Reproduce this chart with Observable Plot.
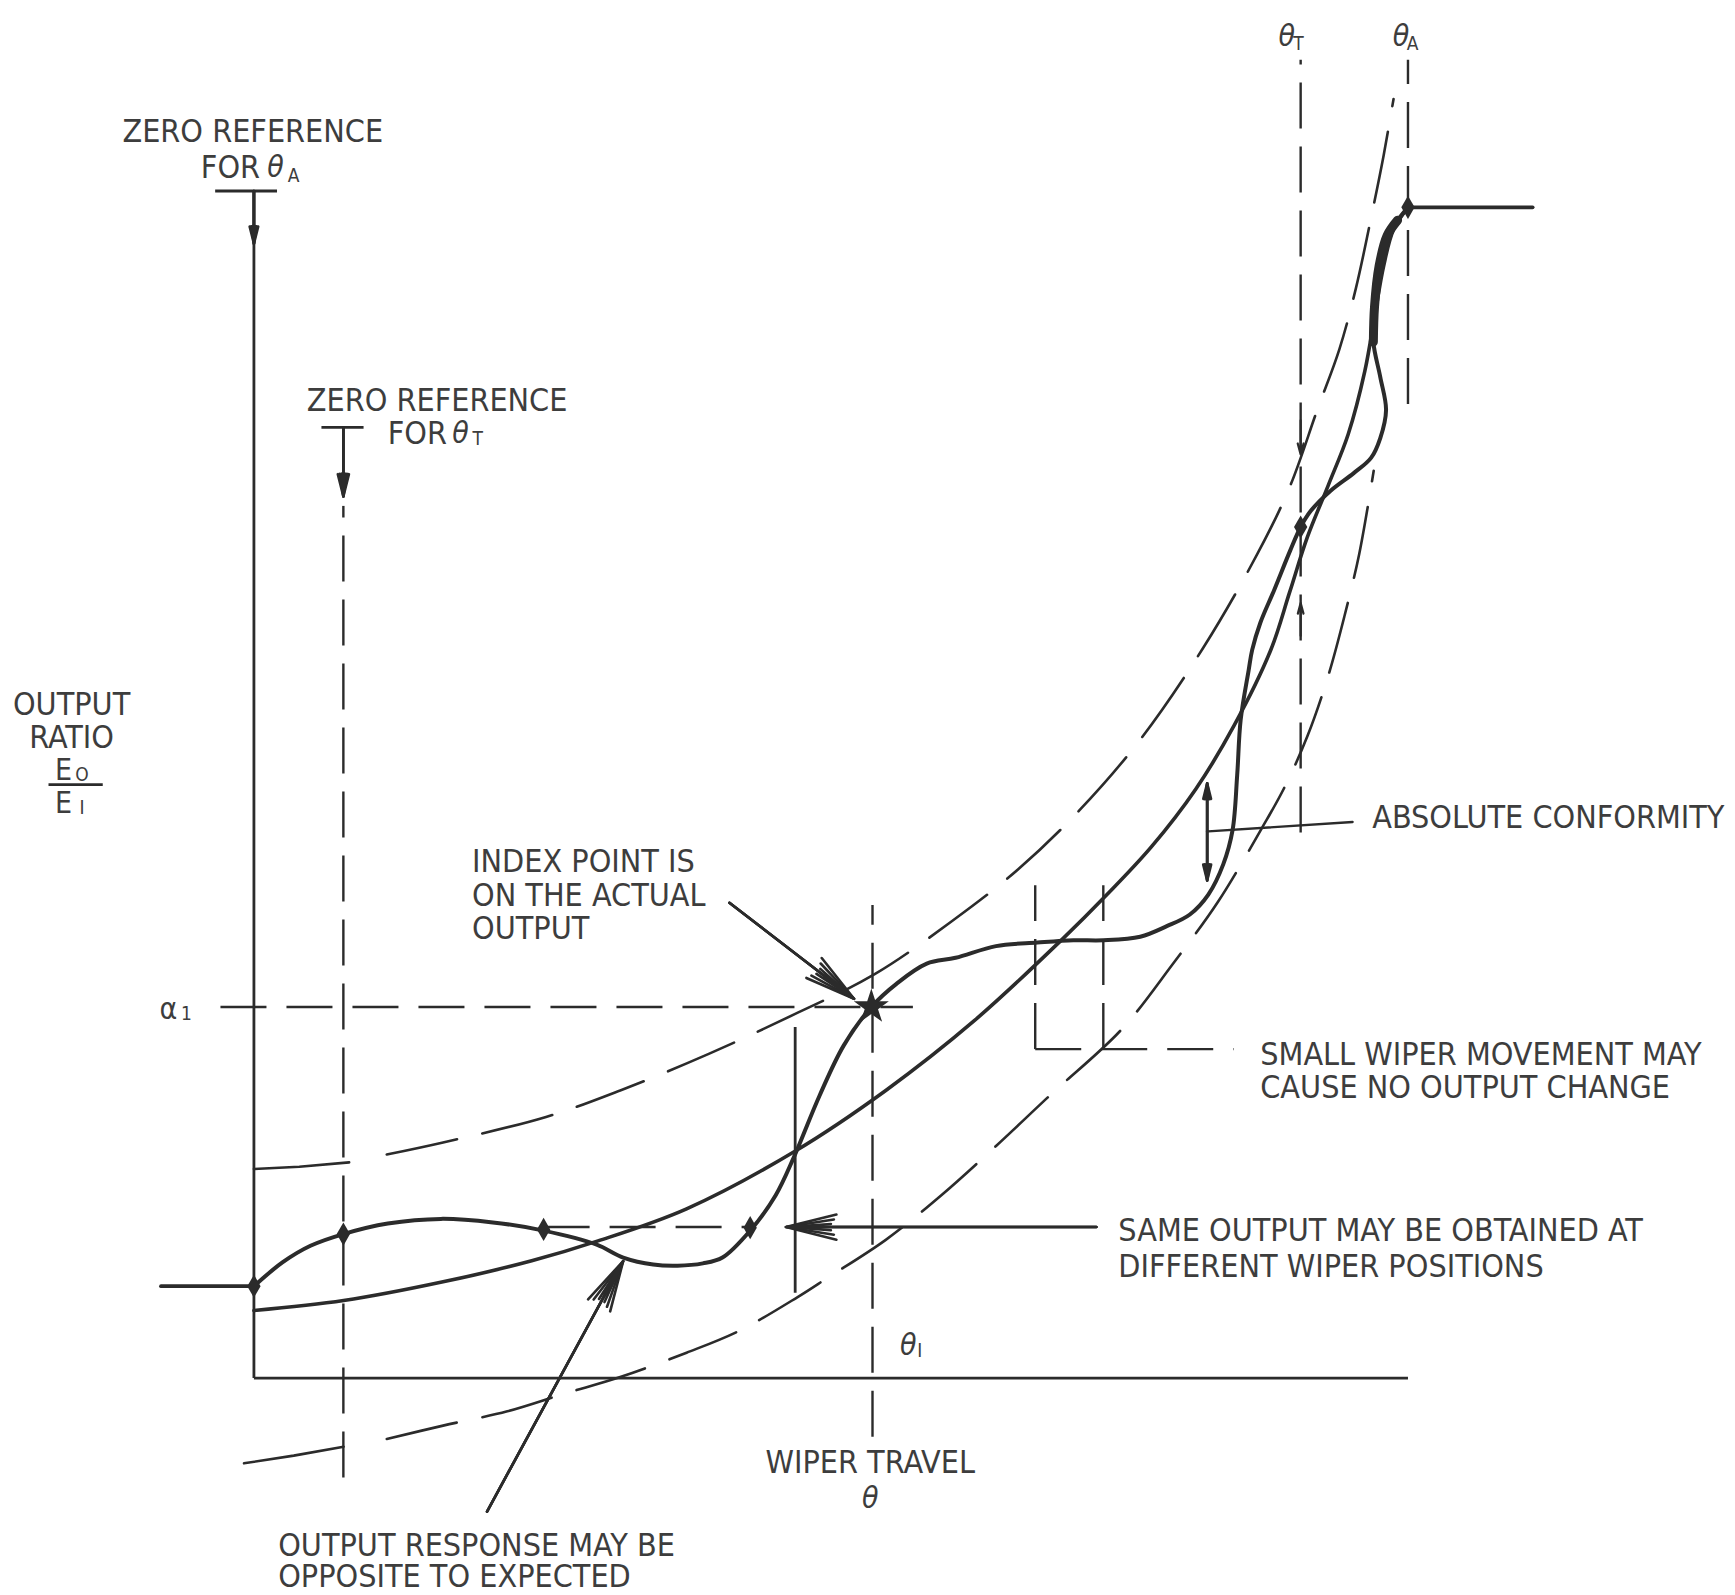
<!DOCTYPE html>
<html>
<head>
<meta charset="utf-8">
<script src="https://cdn.jsdelivr.net/npm/d3@7"></script>
<script src="https://cdn.jsdelivr.net/npm/@observablehq/plot@0.6"></script>
<style>
  html, body { margin: 0; padding: 0; background: #ffffff; }
  #chart svg { display: block; }
</style>
</head>
<body>
<div id="chart"></div>
<script>
// Units: wiper travel θ (0 = zero reference for θA, 100 = end of θA),
// output ratio (0 = base line, 100 = full output)

// Actual output (wavy curve)
const actualTheta = [-8.05, 0, 2.5, 4.9, 7.75, 11.6, 16.2, 20.7, 25.1, 29.7, 32.0, 34.6, 36.7, 38.9, 40.6, 43.0, 45.2, 46.8, 49.0, 51.1, 53.5, 55.7, 58.3, 60.8, 64.3, 67.9, 71.0, 73.6, 76.8, 79.1, 81.1, 82.7, 84.0, 84.8, 85.2, 85.5, 86.2, 86.5, 87.2, 88.4, 89.8, 90.7, 91.6, 93.3, 95.3, 96.8, 97.6, 98.1, 97.6, 97.0, 97.1, 97.5, 98.2, 99.1, 100, 110.8];
const actualRatio = [7.85, 7.85, 9.9, 11.3, 12.3, 13.2, 13.6, 13.3, 12.6, 11.4, 10.3, 9.7, 9.6, 9.8, 10.3, 12.6, 15.6, 18.9, 24.1, 28.4, 31.7, 33.7, 35.4, 35.9, 36.9, 37.2, 37.4, 37.4, 37.7, 38.6, 39.6, 41.3, 43.9, 46.8, 51.5, 56.2, 60.5, 62.2, 64.5, 67.3, 70.7, 72.7, 74.1, 75.8, 77.3, 78.6, 80.3, 82.7, 85.5, 88.5, 91.5, 95.0, 97.6, 98.9, 100, 100];

// Theoretical (smooth) function
const theoTheta = [0, 7.77, 16.39, 24.07, 29.82, 37.49, 46.88, 54.75, 62.42, 69.99, 73.92, 77.76, 81.59, 84.95, 88.11, 89.74, 91.28, 93.10, 94.82, 96.26, 97.12, 97.89, 98.75, 100];
const theoRatio = [5.77, 6.62, 8.22, 10.02, 11.72, 14.46, 19.38, 24.57, 30.53, 37.43, 41.30, 45.37, 50.28, 55.77, 62.19, 67.11, 71.83, 76.28, 80.62, 86.01, 90.74, 94.99, 98.11, 100];

// Conformity limits (dashed envelope)
const upperTheta = [0, 3.93, 8.25, 11.51, 16.39, 25.31, 31.74, 39.41, 47.08, 53.79, 60.50, 66.25, 71.52, 76.80, 82.26, 86.96, 89.74, 92.14, 94.06, 95.49, 96.93, 97.89, 98.75];
const upperRatio = [17.86, 18.05, 18.43, 19.10, 20.13, 22.31, 24.57, 27.69, 31.19, 34.50, 39.04, 43.48, 48.49, 54.54, 62.38, 70.42, 76.09, 82.70, 87.90, 93.10, 99.72, 104.44, 109.26];
const lowerTheta = [-0.86, 3.45, 7.77, 11.51, 16.39, 21.96, 26.94, 31.74, 37.49, 42.09, 47.08, 49.76, 54.75, 59.54, 64.33, 69.13, 75.17, 79.67, 83.51, 87.34, 89.26, 91.28, 93.10, 94.53, 95.78, 97.03];
const lowerRatio = [-7.28, -6.62, -5.86, -5.20, -4.06, -2.84, -1.32, 0.09, 2.17, 4.06, 6.90, 8.60, 11.81, 15.60, 19.85, 24.29, 29.77, 35.44, 40.64, 46.98, 50.38, 54.82, 60.02, 65.22, 70.42, 77.50];

// Reference positions
const thetaZeroT = 7.75, thetaEndT = 90.7, thetaEndA = 100, thetaIndex = 53.6, alphaIndex = 31.7;
const sameOutput = 12.9;

// Solid guide rules (vertical): theta, from, to
const solidVTheta = [0, 46.9];
const solidVFrom = [0, 7.3];
const solidVTo = [101.4, 30.0];
// Solid guide rules (horizontal): ratio, from, to
const solidHRatio = [0, 101.4, 81.2, 50.7];
const solidHFrom = [0, -3.36, 5.85, -17.8];
const solidHTo = [100, 2.0, 9.5, -13.1];
// Dashed vertical rules
const dashVTheta = [thetaZeroT, thetaEndT, thetaEndA, thetaIndex, 67.7, 73.6];
const dashVFrom = [-8.5, 46.6, 83.2, -5.0, 28.1, 28.1];
const dashVTo = [74.5, 112.6, 112.6, 40.4, 42.1, 42.1];
// Dashed horizontal rules
const dashHRatio = [alphaIndex, 28.1, sameOutput];
const dashHFrom = [-2.9, 67.7, 25.1];
const dashHTo = [57.1, 84.9, 43.0];

// Arrows
const arrowX1 = [0, thetaZeroT, 41.2, 73.0, 82.6, 82.6, 20.2];
const arrowY1 = [101.4, 81.2, 40.6, sameOutput, 46.7, 46.7, -11.4];
const arrowX2 = [0, thetaZeroT, 52.0, 46.1, 82.6, 82.6, 32.0];
const arrowY2 = [96.9, 75.3, 32.4, sameOutput, 50.8, 42.5, 10.0];
// Small arrow marks on the θT end line
const tickArrowFrom = [81.8, 63.4];
const tickArrowTo = [78.9, 66.2];
// Leader line for absolute conformity
const leaderX = [82.7, 95.2];
const leaderY = [46.7, 47.5];

// Points marked on the actual output
const markTheta = [0, 7.75, 25.1, 43.0, 90.7, 100];
const markRatio = [7.85, 12.3, 12.7, 12.85, 72.7, 100];
const indexPoint = [53.5, 31.7];

// Text (centered)
const centerText = ["ZERO REFERENCE", "ZERO REFERENCE", "OUTPUT", "RATIO", "WIPER TRAVEL"];
const centerTheta = [-0.1, 15.87, -15.8, -15.8, 53.4];
const centerRatio = [106.5, 83.5, 57.5, 54.7, -7.2];
// Text (left aligned)
const leftText = ["FOR", "FOR", "INDEX POINT IS", "ON THE ACTUAL", "OUTPUT", "ABSOLUTE CONFORMITY", "SMALL WIPER MOVEMENT MAY", "CAUSE NO OUTPUT CHANGE", "SAME OUTPUT MAY BE OBTAINED AT", "DIFFERENT WIPER POSITIONS", "OUTPUT RESPONSE MAY BE", "OPPOSITE TO EXPECTED"];
const leftTheta = [-4.6, 11.6, 18.9, 18.9, 18.9, 96.9, 87.2, 87.2, 74.9, 74.9, 2.1, 2.1];
const leftRatio = [103.4, 80.7, 44.1, 41.2, 38.4, 47.9, 27.6, 24.8, 12.6, 9.5, -14.3, -17.0];
// Symbols
const symText = ["θ", "θ", "θ", "θ", "θ", "θ", "E", "E", "α"];
const symTheta = [1.87, 17.9, 89.5, 99.4, 56.7, 53.4, -16.5, -16.5, -7.4];
const symRatio = [103.4, 80.7, 114.6, 114.6, 2.8, -10.3, 51.9, 49.1, 31.5];
const symItalic = [true, true, true, true, true, true, false, false, false];
const subText = ["A", "T", "T", "A", "I", "O", "I", "1"];
const subTheta = [3.43, 19.4, 90.5, 100.4, 57.7, -14.9, -14.9, -5.85];
const subRatio = [102.7, 80.2, 114.0, 114.0, 2.3, 51.5, 48.7, 31.1];

const zip = (xs, ys) => xs.map((x, i) => ({x, y: ys[i]}));
const ink = "#2b2b2b";
const txt = "#3d3d3d";
const font = "'DejaVu Sans Condensed', 'Liberation Sans Narrow', sans-serif";

const actualPts = zip(actualTheta, actualRatio);
const upperPts = zip(upperTheta, upperRatio);
const lowerPts = zip(lowerTheta, lowerRatio);
const arrowData = arrowX1.map((x, i) => ({x1: x, y1: arrowY1[i], x2: arrowX2[i], y2: arrowY2[i]}));
const tickArrows = tickArrowFrom.map((a, i) => ({x1: thetaEndT, y1: a, x2: thetaEndT, y2: tickArrowTo[i]}));
const n = actualPts.length;

const chart = Plot.plot({
  width: 1735,
  height: 1595,
  margin: 0,
  x: {domain: [-21.96, 128.38], axis: null},
  y: {domain: [-18.57, 117.67], axis: null},
  style: {background: "#ffffff"},
  marks: [
    // dashed envelope
    Plot.line(upperPts.slice(0, 3), {x: "x", y: "y", stroke: ink, strokeWidth: 2.6}),
    Plot.line(upperPts.slice(3), {x: "x", y: "y", stroke: ink, strokeWidth: 2.6, curve: "catmull-rom", strokeDasharray: "72,26"}),
    Plot.line(lowerPts.slice(0, 3), {x: "x", y: "y", stroke: ink, strokeWidth: 2.6}),
    Plot.line(lowerPts.slice(3), {x: "x", y: "y", stroke: ink, strokeWidth: 2.6, curve: "catmull-rom", strokeDasharray: "72,26"}),
    // dashed guides
    Plot.link(dashVTheta.map((t, i) => ({t, a: dashVFrom[i], b: dashVTo[i]})), {x1: "t", x2: "t", y1: "a", y2: "b", stroke: ink, strokeWidth: 2.4, strokeDasharray: "46,18"}),
    Plot.link(dashHRatio.map((r, i) => ({r, a: dashHFrom[i], b: dashHTo[i]})), {y1: "r", y2: "r", x1: "a", x2: "b", stroke: ink, strokeWidth: 2.4, strokeDasharray: "46,20"}),
    // solid guides
    Plot.link(solidVTheta.map((t, i) => ({t, a: solidVFrom[i], b: solidVTo[i]})), {x1: "t", x2: "t", y1: "a", y2: "b", stroke: ink, strokeWidth: 2.8}),
    Plot.link(solidHRatio.map((r, i) => ({r, a: solidHFrom[i], b: solidHTo[i]})), {y1: "r", y2: "r", x1: "a", x2: "b", stroke: ink, strokeWidth: 2.8}),
    Plot.line(zip(leaderX, leaderY), {x: "x", y: "y", stroke: ink, strokeWidth: 2.4}),
    // theoretical curve
    Plot.line(zip(theoTheta, theoRatio), {x: "x", y: "y", stroke: ink, strokeWidth: 3.6, curve: "catmull-rom"}),
    // actual output
    Plot.line(actualPts.slice(0, 2), {x: "x", y: "y", stroke: ink, strokeWidth: 3.8}),
    Plot.line(actualPts.slice(1, n - 1), {x: "x", y: "y", stroke: ink, strokeWidth: 4, curve: "catmull-rom"}),
    Plot.line(actualPts.slice(n - 7, n - 2), {x: "x", y: "y", stroke: ink, strokeWidth: 9, curve: "catmull-rom"}),
    Plot.line(actualPts.slice(n - 2), {x: "x", y: "y", stroke: ink, strokeWidth: 3.8}),
    // arrows
    Plot.arrow(arrowData, {x1: "x1", y1: "y1", x2: "x2", y2: "y2", stroke: ink, strokeWidth: 2.6, headLength: 30, headAngle: 28}),
    Plot.arrow(arrowData, {x1: "x1", y1: "y1", x2: "x2", y2: "y2", stroke: ink, strokeWidth: 2.6, headLength: 28, headAngle: 18}),
    Plot.arrow(arrowData, {x1: "x1", y1: "y1", x2: "x2", y2: "y2", stroke: ink, strokeWidth: 2.6, headLength: 26, headAngle: 8}),
    Plot.arrow(tickArrows, {x1: "x1", y1: "y1", x2: "x2", y2: "y2", stroke: ink, strokeWidth: 2.2, headLength: 16, headAngle: 30}),
    // marked points
    Plot.dot(zip(markTheta, markRatio), {x: "x", y: "y", symbol: "diamond", r: 7, fill: ink}),
    Plot.dot([{x: indexPoint[0], y: indexPoint[1]}], {x: "x", y: "y", symbol: "star", r: 11, fill: ink}),
    // text
    Plot.text(centerText.map((s, i) => ({s, x: centerTheta[i], y: centerRatio[i]})), {x: "x", y: "y", text: "s", fontSize: 32, fontFamily: font, fill: txt, textAnchor: "middle"}),
    Plot.text(leftText.map((s, i) => ({s, x: leftTheta[i], y: leftRatio[i]})), {x: "x", y: "y", text: "s", fontSize: 32, fontFamily: font, fill: txt, textAnchor: "start"}),
    Plot.text(symText.map((s, i) => ({s, x: symTheta[i], y: symRatio[i]})).filter((d, i) => symItalic[i]), {x: "x", y: "y", text: "s", fontSize: 30, fontFamily: font, fontStyle: "italic", fill: txt, textAnchor: "middle"}),
    Plot.text(symText.map((s, i) => ({s, x: symTheta[i], y: symRatio[i]})).filter((d, i) => !symItalic[i]), {x: "x", y: "y", text: "s", fontSize: 30, fontFamily: font, fill: txt, textAnchor: "middle"}),
    Plot.text(subText.map((s, i) => ({s, x: subTheta[i], y: subRatio[i]})), {x: "x", y: "y", text: "s", fontSize: 19, fontFamily: font, fill: txt, textAnchor: "middle"})
  ]
});
document.getElementById("chart").append(chart);
</script>
</body>
</html>
